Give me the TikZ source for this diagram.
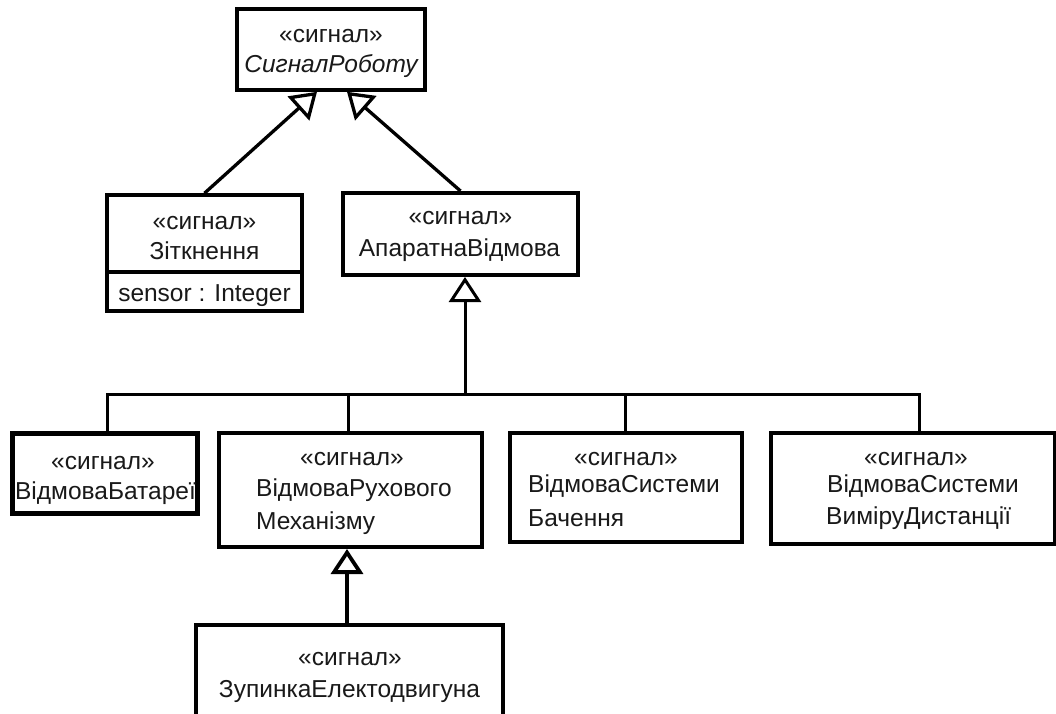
\documentclass[tikz,border=0pt]{standalone}
\usepackage{fontspec}
\setmainfont{Liberation Sans}
\usetikzlibrary{arrows.meta,calc}

\begin{document}
\begin{tikzpicture}[x=1pt,y=-1pt,
  box/.style={draw=black, line width=3.6pt, rectangle, inner sep=0pt, fill=white},
  lbl/.style={font=\fontsize{24.5}{29}\selectfont, inner sep=0pt, text=black!90},
  conn/.style={line width=3pt},
  gen/.style={conn, -{Triangle[open, length=25pt, width=32pt]}},
]
\useasboundingbox (0,0) rectangle (1056,713);
\clip (0,0) rectangle (1056,713);

% root signal
\node[box, minimum width=188pt, minimum height=81pt] (top) at (331,49.5) {};
\node[lbl, anchor=mid] (top-st) at (331,40) {«сигнал»};
\node[lbl, anchor=mid, font=\fontsize{24.5}{29}\selectfont\itshape] (top-nm) at (331,69.5) {СигналРоботу};

% collision signal with one attribute
\node[box, minimum width=195pt, minimum height=116pt] (zit) at (204.5,253) {};
\draw[line width=3.6pt] ($(zit.north west)+(0,79)$) -- ($(zit.north east)+(0,79)$);
\node[lbl, anchor=mid] (zit-st) at (204.5,227) {«сигнал»};
\node[lbl, anchor=mid] (zit-nm) at (204.5,257) {Зіткнення};
\node[lbl, anchor=mid] (zit-at) at (204.5,298.5) {sensor : Integer};

% hardware failure
\node[box, line width=4pt, minimum width=235pt, minimum height=82pt] (apar) at (460.5,234) {};
\node[lbl, anchor=mid] (apar-st) at (460.5,222) {«сигнал»};
\node[lbl, anchor=mid] (apar-nm) at (459.5,254) {АпаратнаВідмова};

% specific failures
\node[box, line width=5pt, minimum width=185pt, minimum height=80pt] (bat) at (104.5,473) {};
\node[lbl, anchor=mid] (bat-st) at (103,467) {«сигнал»};
\node[lbl, anchor=mid] (bat-nm) at (105.5,497) {ВідмоваБатареї};

\node[box, line width=4pt, minimum width=263pt, minimum height=114pt] (ruh) at (350.5,490) {};
\node[lbl, anchor=mid] (ruh-st) at (352,463) {«сигнал»};
\node[lbl, anchor=mid west] (ruh-n1) at (256,494) {ВідмоваРухового};
\node[lbl, anchor=mid west] (ruh-n2) at (256,527) {Механізму};

\node[box, line width=4pt, minimum width=232pt, minimum height=109pt] (bach) at (626,487.5) {};
\node[lbl, anchor=mid] (bach-st) at (626,463) {«сигнал»};
\node[lbl, anchor=mid west] (bach-n1) at (528,490) {ВідмоваСистеми};
\node[lbl, anchor=mid west] (bach-n2) at (528,524) {Бачення};

\node[box, line width=4.4pt, minimum width=284pt, minimum height=111pt] (dist) at (913,488.5) {};
\node[lbl, anchor=mid] (dist-st) at (916,463) {«сигнал»};
\node[lbl, anchor=mid west] (dist-n1) at (827,490) {ВідмоваСистеми};
\node[lbl, anchor=mid west] (dist-n2) at (826,522) {ВиміруДистанції};

% motor stop
\node[box, line width=4pt, minimum width=307pt, minimum height=135pt] (zup) at (349.5,692.5) {};
\node[lbl, anchor=mid] (zup-st) at (350,663) {«сигнал»};
\node[lbl, anchor=mid] (zup-nm) at (349.5,695) {ЗупинкаЕлектодвигуна};

% generalizations
\coordinate (bus) at (465,394);
\draw[gen, line width=3.3pt] (zit.north) -- ($(top.south)+(-14,0)$);
\draw[gen, line width=3.3pt] (apar.north) -- ($(top.south)+(16,0)$);
\draw[gen] (bus) -- (bus |- apar.south);
\draw[conn] ([xshift=2.5pt]bat.north) |- (bus);
\draw[conn] ([xshift=-2.5pt]ruh.north) |- (bus);
\draw[conn] ([xshift=-1pt]bach.north) |- (bus);
\draw[conn] ([xshift=6pt]dist.north) |- (bus);
\draw[gen, line width=3.8pt] ([xshift=-2.5pt]zup.north) -- ([xshift=-2.5pt]zup.north |- ruh.south);
\end{tikzpicture}
\end{document}
